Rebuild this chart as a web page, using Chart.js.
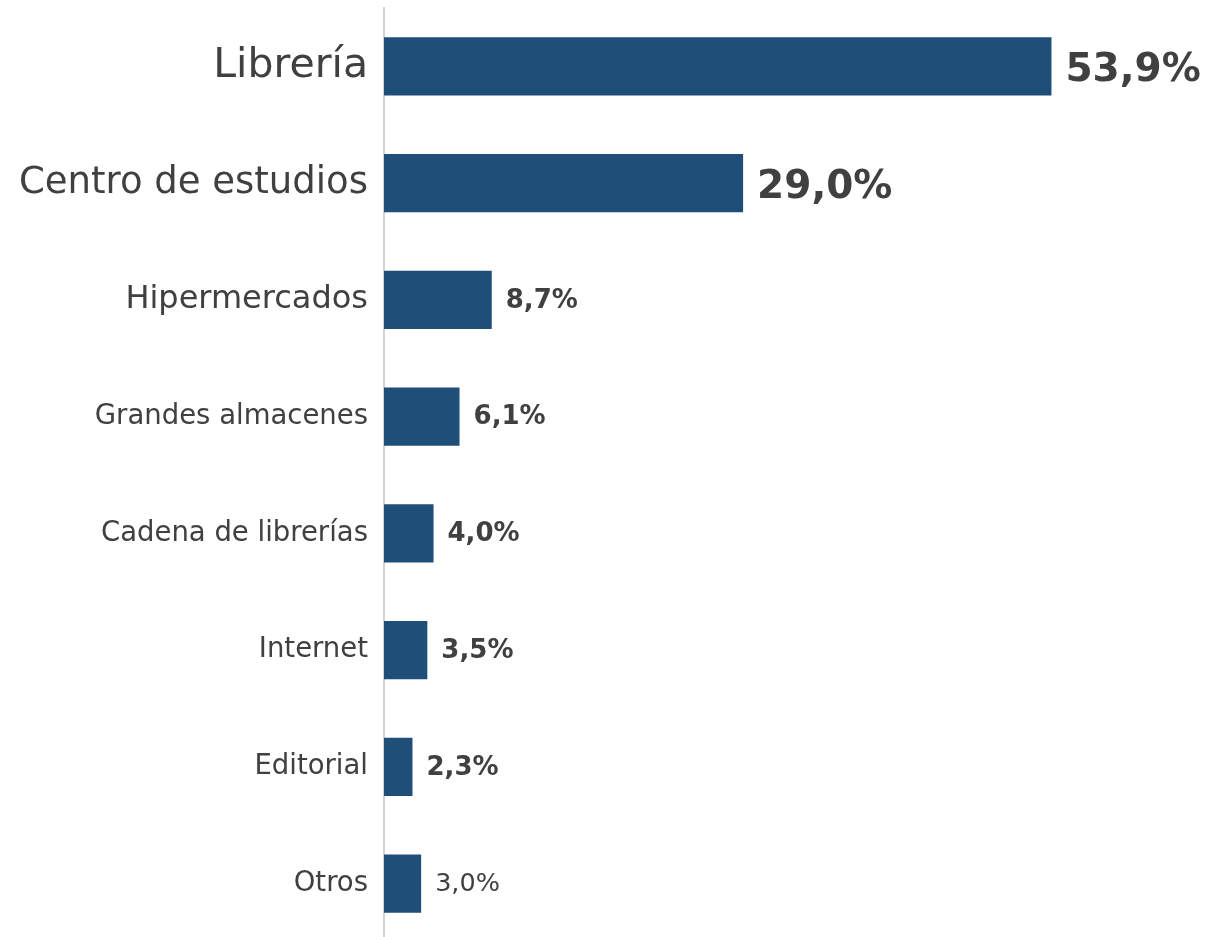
<!DOCTYPE html>
<html>
<head>
    <meta charset="utf-8">
    <title>Lugar de compra</title>
    <script src="https://cdn.jsdelivr.net/npm/chart.js"></script>
    <style>
        html, body { margin: 0; padding: 0; background: #fff; overflow: hidden; }
        canvas { display: block; }
    </style>
</head>
<body>
    <canvas id="compraChart" width="1207" height="942"></canvas>
    <script>
        // datos
        var categorias = ['Librería', 'Centro de estudios', 'Hipermercados', 'Grandes almacenes',
                          'Cadena de librerías', 'Internet', 'Editorial', 'Otros'];
        var porcentajes = [53.9, 29.0, 8.7, 6.1, 4.0, 3.5, 2.3, 3.0];

        // tamanos de letra por fila (etiquetas y valores)
        var tamCategoria = [41, 37, 32, 27.5, 27.5, 27.5, 27.5, 27.5];
        var tamValor = [39, 39, 26, 26, 26, 26, 26, 25.5];
        var negritaValor = [true, true, true, true, true, true, true, false];

        var fuente = "'DejaVu Sans', Verdana, sans-serif";
        var gris = '#404040';

        var etiquetasValor = {
            id: 'etiquetasValor',
            afterDatasetsDraw: function (chart) {
                var ctx = chart.ctx;
                var meta = chart.getDatasetMeta(0);
                ctx.save();
                ctx.fillStyle = gris;
                ctx.textAlign = 'left';
                ctx.textBaseline = 'middle';
                meta.data.forEach(function (bar, i) {
                    ctx.font = (negritaValor[i] ? 'bold ' : '') + tamValor[i] + 'px ' + fuente;
                    var txt = porcentajes[i].toFixed(1).replace('.', ',') + '%';
                    // los textos grandes van un poco mas abajo
                    var dy = 1 + (tamValor[i] - 26) * 0.3;
                    ctx.fillText(txt, bar.x + 14, bar.y + dy);
                });
                ctx.restore();
            }
        };

        var ctx = document.getElementById('compraChart').getContext('2d');
        var compraChart = new Chart(ctx, {
            type: 'bar',
            data: {
                labels: categorias,
                datasets: [{
                    data: porcentajes,
                    backgroundColor: '#1f4e79',
                    borderWidth: 0,
                    barPercentage: 0.5,
                    categoryPercentage: 1.0
                }]
            },
            options: {
                indexAxis: 'y',
                responsive: false,
                animation: false,
                layout: { padding: { top: 8, right: 80, bottom: 0, left: 0 } },
                plugins: {
                    legend: { display: false },
                    tooltip: { enabled: false }
                },
                scales: {
                    x: {
                        display: false,
                        min: 0,
                        max: 60
                    },
                    y: {
                        afterFit: function (scale) {
                            scale.width = 384;
                            scale.paddingTop = 0;
                            scale.paddingBottom = 0;
                        },
                        grid: { display: true, drawOnChartArea: false, drawTicks: false },
                        border: { display: true, color: '#d4d4d4', width: 2 },
                        ticks: {
                            padding: 16,
                            color: gris,
                            font: function (c) {
                                return { family: fuente, size: tamCategoria[c.index] || 27.5 };
                            }
                        }
                    }
                }
            },
            plugins: [etiquetasValor]
        });
    </script>
</body>
</html>
